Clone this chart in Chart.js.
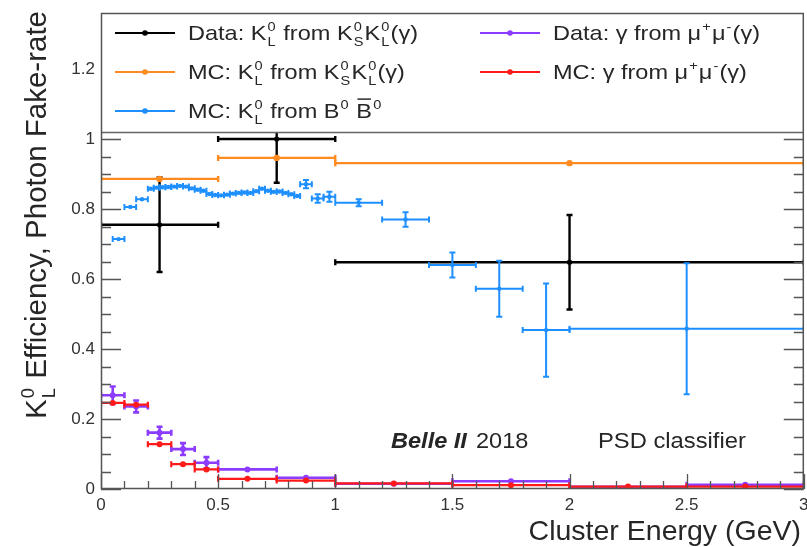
<!DOCTYPE html>
<html>
<head>
<meta charset="utf-8">
<script src="https://cdn.jsdelivr.net/npm/chart.js@4.4.0/dist/chart.umd.min.js"></script>
<style>
  html, body { margin: 0; padding: 0; background: #ffffff; }
  canvas { display: block; }
</style>
</head>
<body>
<canvas id="chart" width="807" height="547"></canvas>
<script>
// ---- K_L^0 efficiency from K_S^0 K_L^0 (gamma): data and MC ----
const edgesKsKl = [0, 0.5, 1.0, 3.0];
const dataKsKlEff = [0.755, 1.0, 0.648];
const dataKsKlErr = [0.135, 0.125, 0.135];
const mcKsKlEff = [0.886, 0.946, 0.931];
const mcKsKlErr = [0.004, 0.003, 0.002];

// ---- K_L^0 efficiency from B0 B0bar MC ----
const edgesBB = [0.05, 0.10, 0.15, 0.20,
  0.225, 0.25, 0.275, 0.30, 0.325, 0.35, 0.375, 0.40, 0.425, 0.45, 0.475, 0.50,
  0.525, 0.55, 0.575, 0.60, 0.625, 0.65, 0.675, 0.70, 0.725, 0.75, 0.775, 0.80,
  0.825, 0.85, 0.90, 0.95, 1.00, 1.2, 1.4, 1.6, 1.8, 2.0, 3.0];
const mcBBEff = [0.714, 0.806, 0.828,
  0.858, 0.861, 0.862, 0.863, 0.864, 0.866, 0.864, 0.859, 0.855, 0.852, 0.843, 0.840,
  0.839, 0.841, 0.844, 0.846, 0.847, 0.846, 0.851, 0.858, 0.852, 0.849, 0.850, 0.846,
  0.842, 0.837, 0.871, 0.830, 0.835, 0.818, 0.770, 0.640, 0.572, 0.454, 0.458];
const mcBBErr = [0.006, 0.006, 0.005,
  0.004, 0.004, 0.004, 0.004, 0.004, 0.004, 0.004, 0.004, 0.004, 0.004, 0.004, 0.004,
  0.004, 0.004, 0.004, 0.004, 0.004, 0.004, 0.004, 0.004, 0.004, 0.004, 0.004, 0.004,
  0.004, 0.004, 0.012, 0.012, 0.014, 0.010, 0.021, 0.036, 0.080, 0.133, 0.187];

// ---- photon fake rate from mu+ mu- (gamma): data and MC ----
const edgesGamma = [0, 0.1, 0.2, 0.3, 0.4, 0.5, 0.75, 1.0, 1.5, 2.0, 2.5, 3.0];
const dataGammaRate = [0.268, 0.236, 0.161, 0.114, 0.075, 0.056, 0.032, 0.015, 0.022, 0.006, 0.012];
const dataGammaErr = [0.025, 0.017, 0.017, 0.017, 0.016, 0.004, 0.003, 0.002, 0.002, 0.002, 0.002];
const mcGammaRate = [0.246, 0.241, 0.128, 0.071, 0.056, 0.029, 0.024, 0.016, 0.011, 0.007, 0.007];
const mcGammaErr = [0.006, 0.005, 0.004, 0.003, 0.003, 0.002, 0.002, 0.001, 0.001, 0.001, 0.001];

// ---- axis tick values ----
const xTickValues = [0, 0.5, 1, 1.5, 2, 2.5, 3];
const yTickValues = [0, 0.2, 0.4, 0.6, 0.8, 1, 1.2];

const FONT = '"Liberation Sans", Arial, Helvetica, sans-serif';
const TEXT_COLOR = '#262626';

// one histogram bin -> one point carrying its own x range and y error
function binPoints(edges, vals, errs) {
  return vals.map((v, i) => ({
    x: (edges[i] + edges[i + 1]) / 2,
    y: v,
    xMin: edges[i],
    xMax: edges[i + 1],
    yErr: errs[i]
  }));
}

const series = [
  { color: '#000000', lw: 2.4, r: 2.6, pts: binPoints(edgesKsKl, dataKsKlEff, dataKsKlErr),
    label: [{ t: 'Data: K' }, { sup: '0', sub: 'L' }, { t: ' from K' }, { sup: '0', sub: 'S' }, { t: 'K' }, { sup: '0', sub: 'L' }, { t: '(γ)' }] },
  { color: '#ff8a1f', lw: 2.4, r: 3.2, pts: binPoints(edgesKsKl, mcKsKlEff, mcKsKlErr),
    label: [{ t: 'MC: K' }, { sup: '0', sub: 'L' }, { t: ' from K' }, { sup: '0', sub: 'S' }, { t: 'K' }, { sup: '0', sub: 'L' }, { t: '(γ)' }] },
  { color: '#1e8fff', lw: 2.0, r: 2.2, pts: binPoints(edgesBB, mcBBEff, mcBBErr),
    label: [{ t: 'MC: K' }, { sup: '0', sub: 'L' }, { t: ' from B' }, { sup: '0' }, { t: ' ' }, { t: 'B', over: true }, { sup: '0' }] },
  { color: '#8c3cff', lw: 2.6, r: 3.0, pts: binPoints(edgesGamma, dataGammaRate, dataGammaErr),
    label: [{ t: 'Data: γ from μ' }, { sup: '+' }, { t: 'μ' }, { sup: '-' }, { t: '(γ)' }] },
  { color: '#ff1a1a', lw: 2.2, r: 3.0, pts: binPoints(edgesGamma, mcGammaRate, mcGammaErr),
    label: [{ t: 'MC: γ from μ' }, { sup: '+' }, { t: 'μ' }, { sup: '-' }, { t: '(γ)' }] }
];

// text with stacked super/subscripts and overlines, drawn from (0, 0)
function drawRich(ctx, parts, size, dry) {
  let cx = 0;
  for (const p of parts) {
    if (p.t !== undefined) {
      ctx.font = size + 'px ' + FONT;
      const w = ctx.measureText(p.t).width;
      if (!dry) {
        ctx.fillText(p.t, cx, 0);
        if (p.over) {
          ctx.save();
          ctx.lineWidth = Math.max(1, size * 0.07);
          ctx.strokeStyle = ctx.fillStyle;
          ctx.beginPath();
          ctx.moveTo(cx + 1, -size * 0.9);
          ctx.lineTo(cx + w - 1, -size * 0.9);
          ctx.stroke();
          ctx.restore();
        }
      }
      cx += w;
    } else {
      const s = size * 0.62;
      ctx.font = s + 'px ' + FONT;
      let w = 0;
      if (p.sup) {
        w = Math.max(w, ctx.measureText(p.sup).width);
        if (!dry) ctx.fillText(p.sup, cx + 1, -size * 0.42);
      }
      if (p.sub) {
        w = Math.max(w, ctx.measureText(p.sub).width);
        if (!dry) ctx.fillText(p.sub, cx + 1, size * 0.3);
      }
      cx += w + 2;
    }
  }
  return cx;
}

// plain or rich text with a horizontal stretch
function drawStretched(ctx, x, baseline, sx, fn) {
  ctx.save();
  ctx.translate(x, baseline);
  ctx.scale(sx, 1);
  fn();
  ctx.restore();
}

// horizontal bin width and vertical error for each point, under the markers
const errorBars = {
  id: 'errorBars',
  beforeDatasetDraw(chart, args) {
    const ds = chart.data.datasets[args.index];
    const { ctx, chartArea: a, scales: { x, y } } = chart;
    ctx.save();
    ctx.beginPath();
    ctx.rect(a.left, a.top, a.width, a.height);
    ctx.clip();
    ctx.strokeStyle = ds.borderColor;
    ctx.lineWidth = ds.errLineWidth;
    ctx.lineCap = 'butt';
    const cap = 3;
    for (const p of ds.data) {
      const xc = x.getPixelForValue(p.x);
      const x0 = x.getPixelForValue(p.xMin);
      const x1 = x.getPixelForValue(p.xMax);
      const yc = y.getPixelForValue(p.y);
      const y0 = y.getPixelForValue(p.y - p.yErr);
      const y1 = y.getPixelForValue(p.y + p.yErr);
      ctx.beginPath();
      ctx.moveTo(x0, yc); ctx.lineTo(x1, yc);
      ctx.moveTo(x0, yc - cap); ctx.lineTo(x0, yc + cap);
      ctx.moveTo(x1, yc - cap); ctx.lineTo(x1, yc + cap);
      if (y0 - y1 > 2 * cap) {
        ctx.moveTo(xc, y0); ctx.lineTo(xc, y1);
        ctx.moveTo(xc - cap, y0); ctx.lineTo(xc + cap, y0);
        ctx.moveTo(xc - cap, y1); ctx.lineTo(xc + cap, y1);
      }
      ctx.stroke();
    }
    ctx.restore();
  }
};

// inward ticks, legend box, frame and annotations
const frameAndText = {
  id: 'frameAndText',
  afterDatasetsDraw(chart) {
    const { ctx, chartArea: a, scales: { x, y } } = chart;
    ctx.save();
    ctx.strokeStyle = '#555555';
    ctx.lineWidth = 1.3;
    ctx.beginPath();
    for (let i = 0; i * 0.05 <= y.max + 1e-9; i++) {
      const py = Math.round(y.getPixelForValue(i * 0.05)) + 0.5;
      const len = (i % 4 === 0) ? 20 : 10;
      ctx.moveTo(a.left, py); ctx.lineTo(a.left + len, py);
      ctx.moveTo(a.right, py); ctx.lineTo(a.right - len, py);
    }
    for (let i = 0; i <= 30; i++) {
      const px = Math.round(x.getPixelForValue(i * 0.1)) + 0.5;
      const len = (i % 5 === 0) ? 15 : 8;
      ctx.moveTo(px, a.bottom); ctx.lineTo(px, a.bottom - len);
    }
    ctx.stroke();

    // legend box across the top of the frame
    const legH = Math.round(a.height * 0.25);
    ctx.fillStyle = '#ffffff';
    ctx.fillRect(a.left, a.top, a.width, legH);
    ctx.strokeStyle = '#666666';
    ctx.lineWidth = 1.3;
    ctx.beginPath();
    ctx.moveTo(a.left, a.top + legH + 0.5);
    ctx.lineTo(a.right, a.top + legH + 0.5);
    ctx.stroke();

    // outer frame
    ctx.strokeStyle = '#555555';
    ctx.lineWidth = 1.5;
    ctx.strokeRect(a.left + 0.5, a.top + 0.5, a.width - 1, a.height - 1);

    // legend entries: two columns
    const cols = [a.left + 14, a.left + 379];
    const rows = [a.top + 20, a.top + 59, a.top + 98];
    const slots = [[0, 0], [0, 1], [0, 2], [1, 0], [1, 1]];
    ctx.textAlign = 'left';
    ctx.textBaseline = 'alphabetic';
    series.forEach((s, i) => {
      const [c, r] = slots[i];
      const lx = cols[c], ly = rows[r];
      ctx.strokeStyle = s.color;
      ctx.lineWidth = 2.2;
      ctx.beginPath();
      ctx.moveTo(lx, ly); ctx.lineTo(lx + 60, ly);
      ctx.stroke();
      ctx.fillStyle = s.color;
      ctx.beginPath();
      ctx.arc(lx + 30, ly, 2.8, 0, Math.PI * 2);
      ctx.fill();
      ctx.fillStyle = TEXT_COLOR;
      drawStretched(ctx, lx + 73, ly + 7, 1.12, () => drawRich(ctx, s.label, 21, false));
    });

    // experiment tag and method
    ctx.fillStyle = TEXT_COLOR;
    drawStretched(ctx, 391, 448, 1.07, () => {
      ctx.font = 'italic bold 22px ' + FONT;
      ctx.fillText('Belle II', 0, 0);
    });
    drawStretched(ctx, 476, 448, 1.07, () => {
      ctx.font = '22px ' + FONT;
      ctx.fillText('2018', 0, 0);
    });
    drawStretched(ctx, 598, 448, 1.08, () => {
      ctx.font = '22px ' + FONT;
      ctx.fillText('PSD classifier', 0, 0);
    });

    // axis titles
    ctx.font = '28.5px ' + FONT;
    ctx.textAlign = 'right';
    ctx.fillText('Cluster Energy (GeV)', 801, 540);

    const yTitle = [{ t: 'K' }, { sup: '0', sub: 'L' }, { t: ' Efficiency, Photon Fake-rate' }];
    ctx.textAlign = 'left';
    const w = drawRich(ctx, yTitle, 29.5, true);
    ctx.translate(46, 11);
    ctx.rotate(-Math.PI / 2);
    ctx.translate(-w, 0);
    drawRich(ctx, yTitle, 29.5, false);
    ctx.restore();
  }
};

const ctx = document.getElementById('chart').getContext('2d');
new Chart(ctx, {
  type: 'scatter',
  data: {
    datasets: series.map((s, i) => ({
      data: s.pts,
      borderColor: s.color,
      backgroundColor: s.color,
      pointRadius: s.r,
      pointBorderWidth: 0,
      pointHoverRadius: s.r,
      showLine: false,
      errLineWidth: s.lw,
      order: series.length - i
    }))
  },
  options: {
    responsive: false,
    animation: false,
    devicePixelRatio: 1,
    layout: { padding: { left: 0, right: 2, top: 13, bottom: 0 } },
    plugins: { legend: { display: false }, tooltip: { enabled: false } },
    scales: {
      x: {
        type: 'linear',
        min: 0, max: 3,
        grid: { display: false, drawTicks: false },
        border: { display: false },
        afterBuildTicks: s => { s.ticks = xTickValues.map(v => ({ value: v })); },
        afterFit: s => { s.height = 58; s.paddingLeft = 0; s.paddingRight = 0; },
        ticks: {
          color: '#333333',
          font: { family: FONT, size: 17 },
          padding: 6,
          maxRotation: 0,
          autoSkip: false,
          callback: v => String(v)
        }
      },
      y: {
        type: 'linear',
        min: 0, max: 1.36,
        grid: { display: false, drawTicks: false },
        border: { display: false },
        afterBuildTicks: s => { s.ticks = yTickValues.map(v => ({ value: v })); },
        afterFit: s => { s.width = 101; s.paddingTop = 0; s.paddingBottom = 0; },
        ticks: {
          color: '#333333',
          font: { family: FONT, size: 17 },
          padding: 6,
          autoSkip: false,
          callback: v => String(v)
        }
      }
    }
  },
  plugins: [errorBars, frameAndText]
});
</script>
</body>
</html>
